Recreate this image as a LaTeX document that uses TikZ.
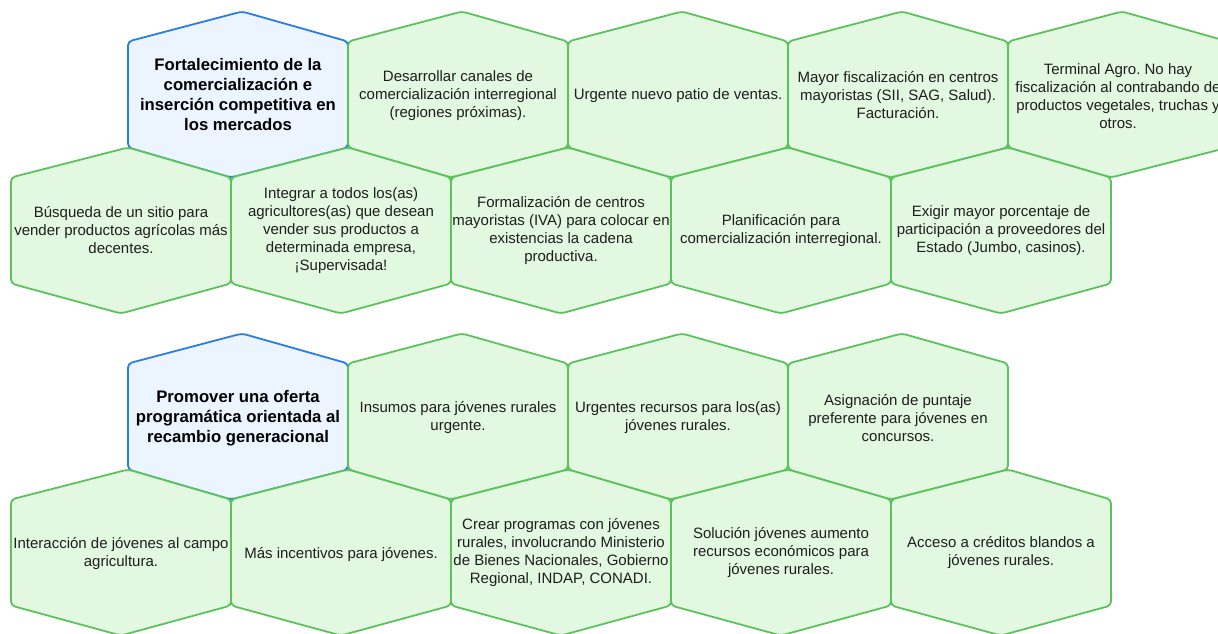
\documentclass[tikz,border=0pt]{standalone}
\usepackage{fontspec}
\setmainfont{Liberation Sans}
\frenchspacing
\definecolor{gstroke}{HTML}{5CC35C}
\definecolor{gfill}{HTML}{E2F8E0}
\definecolor{bstroke}{HTML}{2A7DE1}
\definecolor{bfill}{HTML}{EBF4FF}
\definecolor{txtcol}{HTML}{1E1E1E}
\tikzset{
  hexup/.pic={\path[pic actions, rounded corners=4pt] (-110,-53) -- (4,-83) -- (110,-53) -- (110,53) -- (-7,83) -- (-110,53) -- cycle;},
  hexdown/.pic={\path[pic actions, rounded corners=4pt] (-110,-53) -- (7,-83) -- (110,-53) -- (110,53) -- (0,83) -- (-110,53) -- cycle;},
  hexg/.style={draw=gstroke, fill=gfill, line width=1.8pt},
  hexb/.style={draw=bstroke, fill=bfill, line width=1.8pt},
  txt/.style={align=center, text=txtcol, inner sep=0pt, font=\fontsize{15}{18}\selectfont},
  ttl/.style={align=center, text=black, inner sep=0pt, font=\fontsize{16.7}{20}\selectfont\bfseries},
}
\begin{document}
\begin{tikzpicture}[x=1pt,y=-1pt]
\useasboundingbox (0,0) rectangle (1218,633);
\clip (0,0) rectangle (1218,633);
\fill[white] (0,0) rectangle (1218,633);
% ---------- group 1, top row ----------
\pic[hexb] at (238,94.5) {hexup};
\pic[hexg] at (458,94.5) {hexup};
\pic[hexg] at (678,94.5) {hexup};
\pic[hexg] at (898,94.5) {hexup};
\pic[hexg] at (1118,94.5) {hexup};
\node[ttl] (a1) at (238,94.5) {Fortalecimiento de la\\comercialización e\\inserción competitiva en\\los mercados};
\node[txt] (a2) at (458,95.5) {Desarrollar canales de\\comercialización interregional\\(regiones próximas).};
\node[txt] (a3) at (678,95.5) {Urgente nuevo patio de ventas.};
\node[txt] (a4) at (898,95.5) {Mayor fiscalización en centros\\mayoristas (SII, SAG, Salud).\\Facturación.};
\node[txt] (a5) at (1118,96) {Terminal Agro. No hay\\fiscalización al contrabando de\\productos vegetales, truchas y\\otros.};
% ---------- group 1, bottom row ----------
\pic[hexg] at (121,230.5) {hexdown};
\pic[hexg] at (341,230.5) {hexdown};
\pic[hexg] at (561,230.5) {hexdown};
\pic[hexg] at (781,230.5) {hexdown};
\pic[hexg] at (1001,230.5) {hexdown};
\node[txt] (b1) at (121,230.5) {Búsqueda de un sitio para\\vender productos agrícolas más\\decentes.};
\node[txt] (b2) at (341,230.5) {Integrar a todos los(as)\\agricultores(as) que desean\\vender sus productos a\\determinada empresa,\\¡Supervisada!};
\node[txt] (b3) at (561,230.5) {Formalización de centros\\mayoristas (IVA) para colocar en\\existencias la cadena\\productiva.};
\node[txt] (b4) at (781,230.5) {Planificación para\\comercialización interregional.};
\node[txt] (b5) at (1001,230.5) {Exigir mayor porcentaje de\\participación a proveedores del\\Estado (Jumbo, casinos).};
% ---------- group 2, top row ----------
\pic[hexb] at (238,416.5) {hexup};
\pic[hexg] at (458,416.5) {hexup};
\pic[hexg] at (678,416.5) {hexup};
\pic[hexg] at (898,416.5) {hexup};
\node[ttl] (c1) at (238,418) {Promover una oferta\\programática orientada al\\recambio generacional};
\node[txt] (c2) at (458,418) {Insumos para jóvenes rurales\\urgente.};
\node[txt] (c3) at (678,418) {Urgentes recursos para los(as)\\jóvenes rurales.};
\node[txt] (c4) at (898,418) {Asignación de puntaje\\preferente para jóvenes en\\concursos.};
% ---------- group 2, bottom row ----------
\pic[hexg] at (121,552.5) {hexdown};
\pic[hexg] at (341,552.5) {hexdown};
\pic[hexg] at (561,552.5) {hexdown};
\pic[hexg] at (781,552.5) {hexdown};
\pic[hexg] at (1001,552.5) {hexdown};
\node[txt] (d1) at (121,553.5) {Interacción de jóvenes al campo\\agricultura.};
\node[txt] (d2) at (341,554.5) {Más incentivos para jóvenes.};
\node[txt] (d3) at (561,553) {Crear programas con jóvenes\\rurales, involucrando Ministerio\\de Bienes Nacionales, Gobierno\\Regional, INDAP, CONADI.};
\node[txt] (d4) at (781,553) {Solución jóvenes aumento\\recursos económicos para\\jóvenes rurales.};
\node[txt] (d5) at (1001,553) {Acceso a créditos blandos a\\jóvenes rurales.};
\end{tikzpicture}
\end{document}
